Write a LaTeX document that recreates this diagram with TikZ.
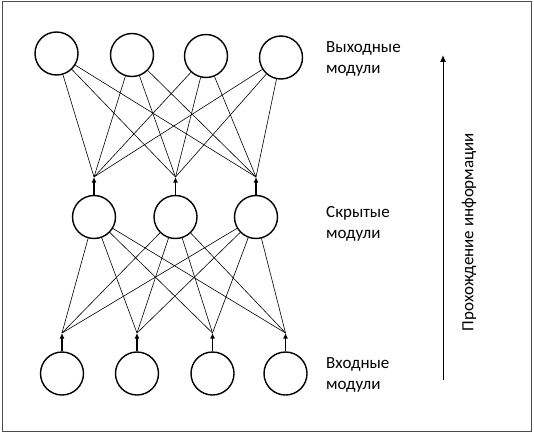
\documentclass[tikz,border=0pt]{standalone}
\usepackage{fontspec}
\setmainfont{Carlito}
\usetikzlibrary{arrows.meta}
\begin{document}
\begin{tikzpicture}[x=1pt,y=-1pt,
  unit/.style={circle,draw,line width=1.4pt,minimum size=43pt,inner sep=0pt},
  link/.style={line width=0.6pt},
  feed/.style={line width=1.4pt,-{Latex[length=5.5pt,width=5pt]}},
  lbl/.style={anchor=base west,align=left,font=\fontsize{17}{21}\selectfont,inner sep=0pt}]
\useasboundingbox (0,0) rectangle (534,433);
\draw[line width=1pt,black!70] (2,2) rectangle (531,431);
% output units
\node[unit] (o1) at (56.5,53.5) {};
\node[unit] (o2) at (132,55) {};
\node[unit] (o3) at (206,56) {};
\node[unit] (o4) at (281,57.5) {};
% hidden units
\node[unit] (h1) at (94,217) {};
\node[unit] (h2) at (175.5,217) {};
\node[unit] (h3) at (256,217) {};
% input units
\node[unit] (i1) at (62,373.5) {};
\node[unit] (i2) at (137,373.5) {};
\node[unit] (i3) at (212.5,373.5) {};
\node[unit] (i4) at (285.5,373.5) {};
% junctions
\coordinate (jh1) at (94,177);
\coordinate (jh2) at (175.5,177);
\coordinate (jh3) at (256,177);
\coordinate (ji1) at (62,333);
\coordinate (ji2) at (137,333);
\coordinate (ji3) at (212.5,333);
\coordinate (ji4) at (285.5,333);
% links
\foreach \a in {1,2,3,4}{\foreach \b in {1,2,3}{\draw[link] (o\a) -- (jh\b);}}
\foreach \a in {1,2,3}{\foreach \b in {1,2,3,4}{\draw[link] (h\a) -- (ji\b);}}
% feed arrows
\foreach \b in {1,2,3}{\draw[feed] (h\b.north) -- (jh\b);}
\foreach \b in {1,2,3,4}{\draw[feed] (i\b.north) -- (ji\b);}
% labels
\node[lbl] (lo) at (326,74) {Выходные\\модули};
\node[lbl] (lh) at (326,238) {Скрытые\\модули};
\node[lbl] (li) at (326,389) {Входные\\модули};
% flow arrow
\coordinate (fa) at (443,380);
\coordinate (fb) at (443,55);
\draw[line width=1pt,-{Latex[length=7pt,width=6pt]}] (fa) -- (fb);
\node[rotate=90,font=\fontsize{17}{20}\selectfont,inner sep=0pt] (flow) at (469,232) {Прохождение информации};
\end{tikzpicture}
\end{document}
